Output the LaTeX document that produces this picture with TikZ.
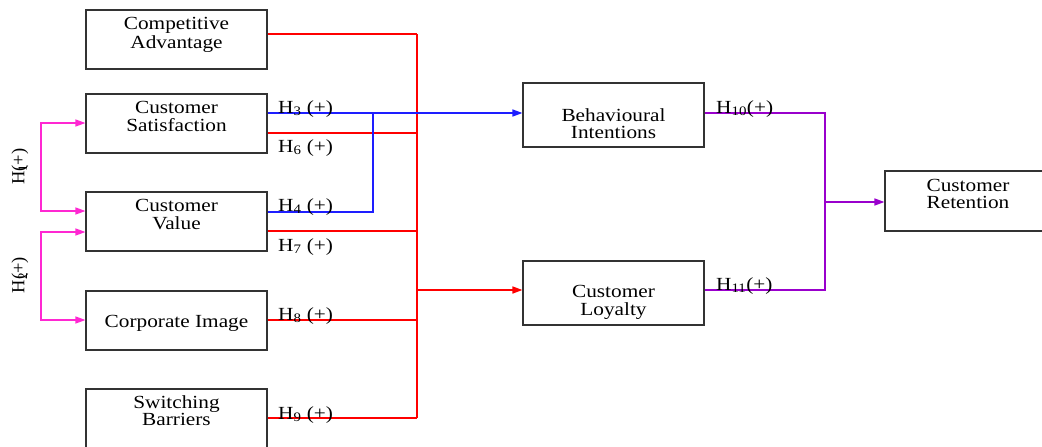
\documentclass[tikz,border=0pt]{standalone}
\usepackage{fontspec}
\setmainfont{Liberation Serif}[FakeStretch=1.15]
\newfontfamily\plainserif{Liberation Serif}
\usetikzlibrary{arrows.meta}
\definecolor{cred}{RGB}{255,0,0}
\definecolor{cblue}{RGB}{30,30,255}
\definecolor{cpurple}{RGB}{153,0,204}
\definecolor{cpink}{RGB}{255,40,210}
\tikzset{
  box/.style={draw=black!80, line width=1.1pt, minimum width=181pt, minimum height=59pt, inner sep=0pt},
  txt/.style={anchor=base, inner sep=0pt, font=\fontsize{18.5}{17.5}\selectfont},
  hlab/.style={anchor=base west, inner sep=0pt, font=\fontsize{18.5}{17.5}\selectfont},
  vlab/.style={rotate=90, inner sep=0pt, font=\plainserif\fontsize{18.5}{17.5}\selectfont},
  redl/.style={draw=cred, line width=1.6pt},
  bluel/.style={draw=cblue, line width=1.4pt},
  purl/.style={draw=cpurple, line width=1.5pt},
  pinkl/.style={draw=cpink, line width=1.3pt},
  tip/.style={-{Triangle[length=10pt,width=7pt]}},
  tips/.style={{Triangle[length=10pt,width=7pt]}-{Triangle[length=10pt,width=7pt]}}
}
\renewcommand\arraystretch{1}
\begin{document}
\begin{tikzpicture}[x=1pt,y=-1pt]
\useasboundingbox (0,0) rectangle (1042,447);
% boxes
\node[box] (comp) at (176.5,39.5) {};
\node[box] (sat) at (176.5,123.5) {};
\node[box] (val) at (176.5,221.5) {};
\node[box] (img) at (176.5,320.5) {};
\node[box] (sw) at (176.5,418.5) {};
\node[box, minimum height=64pt] (beh) at (613.5,115) {};
\node[box, minimum height=64pt] (loy) at (613.5,293) {};
\node[box, minimum height=60pt] (ret) at (975.5,201) {};
% box texts
\node[txt] (tcomp) at (176.5,30) {\begin{tabular}[t]{@{}c@{}}Competitive\\Advantage\end{tabular}};
\node[txt] (tsat) at (176.5,113) {\begin{tabular}[t]{@{}c@{}}Customer\\Satisfaction\end{tabular}};
\node[txt] (tval) at (176.5,211) {\begin{tabular}[t]{@{}c@{}}Customer\\Value\end{tabular}};
\node[txt] (timg) at (176.5,327) {Corporate Image};
\node[txt] (tsw) at (176.5,408) {\begin{tabular}[t]{@{}c@{}}Switching\\Barriers\end{tabular}};
\node[txt] (tbeh) at (613.5,121) {\begin{tabular}[t]{@{}c@{}}Behavioural\\Intentions\end{tabular}};
\node[txt] (tloy) at (613.5,297) {\begin{tabular}[t]{@{}c@{}}Customer\\Loyalty\end{tabular}};
\node[txt] (tret) at (968,191) {\begin{tabular}[t]{@{}c@{}}Customer\\Retention\end{tabular}};
% junction coordinates
\coordinate (j5) at (417,34);
\coordinate (j6) at (417,133);
\coordinate (j7) at (417,231);
\coordinate (j8) at (417,320);
\coordinate (j9) at (417,418);
\coordinate (jl) at (417,290);
\coordinate (b3) at (373,113);
\coordinate (b4) at (373,212);
\coordinate (p10) at (825,113);
\coordinate (p11) at (825,290);
\coordinate (pm) at (825,202);
\coordinate (k1a) at (41,123);
\coordinate (k1b) at (41,211);
\coordinate (k2a) at (41,232);
\coordinate (k2b) at (41,320);
% red connectors
\draw[redl] (comp.east |- j5) -- (j5);
\draw[redl] (sat.east |- j6) -- (j6);
\draw[redl] (val.east |- j7) -- (j7);
\draw[redl] (img.east |- j8) -- (j8);
\draw[redl] (sw.east |- j9) -- (j9);
\draw[redl] (j5) -- (j9);
\draw[redl, tip] (jl) -- (loy.west |- jl);
% blue connectors
\draw[bluel, tip] (sat.east |- b3) -- (beh.west |- b3);
\draw[bluel] (val.east |- b4) -- (b4) -- (b3);
% purple connectors
\draw[purl] (beh.east |- p10) -- (p10) -- (p11) -- (loy.east |- p11);
\draw[purl, tip] (pm) -- (ret.west |- pm);
% pink connectors
\draw[pinkl, tips] (sat.west |- k1a) -- (k1a) -- (k1b) -- (val.west |- k1b);
\draw[pinkl, tips] (val.west |- k2a) -- (k2a) -- (k2b) -- (img.west |- k2b);
% labels
\node[hlab] (h3) at (278,113) {H\textsubscript{3} (+)};
\node[hlab] (h6) at (278,152) {H\textsubscript{6} (+)};
\node[hlab] (h4) at (278,211) {H\textsubscript{4} (+)};
\node[hlab] (h7) at (278,251) {H\textsubscript{7} (+)};
\node[hlab] (h8) at (278,320) {H\textsubscript{8} (+)};
\node[hlab] (h9) at (278,419) {H\textsubscript{9} (+)};
\node[hlab] (h10) at (716,113) {H\textsubscript{10}(+)};
\node[hlab] (h11) at (716,290) {H\textsubscript{11}(+)};
\node[vlab] (h1) at (20,166.5) {H\rlap{\textsubscript{1}}(+)};
\node[vlab] (h2) at (20,275) {H\rlap{\textsubscript{2}}(+)};
\end{tikzpicture}
\end{document}
